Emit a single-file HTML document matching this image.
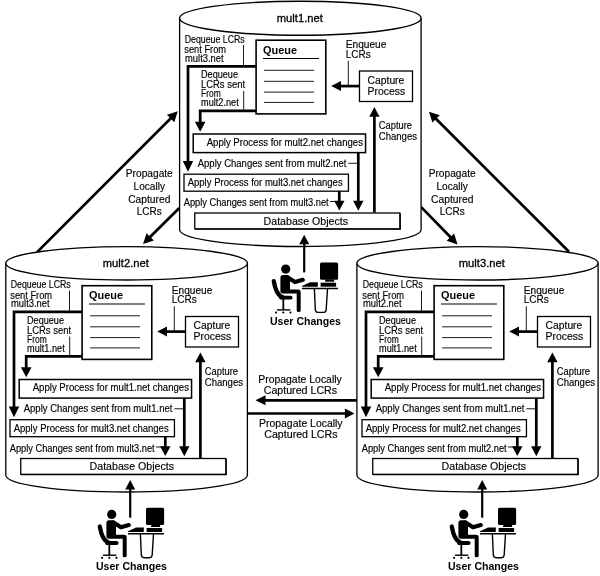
<!DOCTYPE html>
<html><head><meta charset="utf-8"><style>
html,body{margin:0;padding:0;background:#fff;}
svg{display:block;will-change:transform;}
text{font-family:"Liberation Sans",sans-serif;fill:#000;stroke:#000;stroke-width:0.15px;}
text[font-weight="bold"]{stroke-width:0;}
text.t{stroke-width:0.3px;}
</style></head><body>
<svg width="600" height="576" viewBox="0 0 600 576">
<rect width="600" height="576" fill="#fff"/>
<line x1="37.10" y1="252.10" x2="171.30" y2="117.76" stroke="#000" stroke-width="2.7"/><polygon points="177.80,111.25 174.27,122.14 166.91,114.79" fill="#000"/>
<line x1="179.30" y1="208.00" x2="149.53" y2="237.52" stroke="#000" stroke-width="2.7"/><polygon points="143.00,244.00 146.58,233.13 153.90,240.51" fill="#000"/>
<line x1="569.00" y1="251.80" x2="435.41" y2="118.21" stroke="#000" stroke-width="2.7"/><polygon points="428.90,111.70 439.79,115.24 432.44,122.59" fill="#000"/>
<line x1="421.00" y1="206.90" x2="451.08" y2="237.81" stroke="#000" stroke-width="2.7"/><polygon points="457.50,244.40 446.66,240.72 454.11,233.46" fill="#000"/>
<line x1="357.00" y1="400.30" x2="264.50" y2="400.30" stroke="#000" stroke-width="2.7"/><polygon points="255.50,400.30 265.50,395.30 265.50,405.30" fill="#000"/>
<line x1="247.50" y1="413.50" x2="345.90" y2="413.50" stroke="#000" stroke-width="2.7"/><polygon points="354.40,413.50 344.90,418.50 344.90,408.50" fill="#000"/>
<text x="149.3" y="177" font-size="10" text-anchor="middle" textLength="47" lengthAdjust="spacingAndGlyphs">Propagate</text>
<text x="149.3" y="190" font-size="10" text-anchor="middle" textLength="31.4" lengthAdjust="spacingAndGlyphs">Locally</text>
<text x="149.3" y="203" font-size="10" text-anchor="middle" textLength="42.3" lengthAdjust="spacingAndGlyphs">Captured</text>
<text x="149.3" y="215" font-size="10" text-anchor="middle" textLength="25" lengthAdjust="spacingAndGlyphs">LCRs</text>
<text x="452.2" y="177" font-size="10" text-anchor="middle" textLength="47" lengthAdjust="spacingAndGlyphs">Propagate</text>
<text x="452.2" y="190" font-size="10" text-anchor="middle" textLength="31.4" lengthAdjust="spacingAndGlyphs">Locally</text>
<text x="452.2" y="203" font-size="10" text-anchor="middle" textLength="42.3" lengthAdjust="spacingAndGlyphs">Captured</text>
<text x="452.2" y="215" font-size="10" text-anchor="middle" textLength="25" lengthAdjust="spacingAndGlyphs">LCRs</text>
<text x="258.2" y="383" font-size="10" textLength="83.6" lengthAdjust="spacingAndGlyphs">Propagate Locally</text>
<text x="263.7" y="393.8" font-size="10" textLength="73.4" lengthAdjust="spacingAndGlyphs">Captured LCRs</text>
<text x="259" y="426.8" font-size="10" textLength="83.6" lengthAdjust="spacingAndGlyphs">Propagate Locally</text>
<text x="264.3" y="438" font-size="10" textLength="73.2" lengthAdjust="spacingAndGlyphs">Captured LCRs</text>
<g transform="translate(0,0)">
<path d="M179.60,18.2 V229.7 A120.75,16.8 0 0 0 421.10,229.7 V18.2" fill="#fff" stroke="#000" stroke-width="1.3"/>
<ellipse cx="300.35" cy="18.2" rx="120.75" ry="17" fill="#fff" stroke="#000" stroke-width="1.4"/>
<text class="t" x="276.8" y="21.9" font-size="10.5" textLength="46" lengthAdjust="spacingAndGlyphs">mult1.net</text>
<text x="184.7" y="42.9" font-size="10" textLength="60" lengthAdjust="spacingAndGlyphs">Dequeue LCRs</text>
<text x="184.3" y="53" font-size="10" textLength="41.8" lengthAdjust="spacingAndGlyphs">sent From</text>
<text x="185" y="61.7" font-size="10" textLength="38.7" lengthAdjust="spacingAndGlyphs">mult3.net</text>
<line x1="243.5" y1="45" x2="243.5" y2="66" stroke="#000" stroke-width="0.9"/>
<path d="M256,66.4 H188 V163" fill="none" stroke="#000" stroke-width="2.7"/>
<polygon points="188.00,171.70 182.80,160.90 193.20,160.90" fill="#000"/>
<text x="201" y="78" font-size="10" textLength="37" lengthAdjust="spacingAndGlyphs">Dequeue</text>
<text x="201" y="88" font-size="10" textLength="44" lengthAdjust="spacingAndGlyphs">LCRs sent</text>
<text x="201" y="97" font-size="10" textLength="19.7" lengthAdjust="spacingAndGlyphs">From</text>
<text x="201" y="106" font-size="10" textLength="37.7" lengthAdjust="spacingAndGlyphs">mult2.net</text>
<line x1="243.7" y1="91" x2="243.7" y2="110" stroke="#000" stroke-width="0.9"/>
<path d="M256,110.8 H200.2 V123" fill="none" stroke="#000" stroke-width="2.7"/>
<polygon points="200.20,131.70 194.90,121.70 205.50,121.70" fill="#000"/>
<rect x="256.1" y="40.2" width="69.7" height="73.7" fill="#fff" stroke="#000" stroke-width="1.6"/>
<text x="263" y="53.6" font-size="10.3" font-weight="bold" textLength="34" lengthAdjust="spacingAndGlyphs">Queue</text>
<line x1="263" y1="58.5" x2="319" y2="58.5" stroke="#000" stroke-width="1.2"/>
<line x1="264" y1="70.3" x2="314" y2="70.3" stroke="#000" stroke-width="0.9"/>
<line x1="264" y1="81.3" x2="314" y2="81.3" stroke="#000" stroke-width="0.9"/>
<line x1="264" y1="92.1" x2="314" y2="92.1" stroke="#000" stroke-width="0.9"/>
<line x1="264" y1="102.4" x2="314" y2="102.4" stroke="#000" stroke-width="0.9"/>
<text x="345.8" y="48" font-size="10" textLength="40.5" lengthAdjust="spacingAndGlyphs">Enqueue</text>
<text x="345.8" y="57.5" font-size="10" textLength="25" lengthAdjust="spacingAndGlyphs">LCRs</text>
<line x1="348.3" y1="60.8" x2="348.3" y2="86" stroke="#000" stroke-width="0.9"/>
<rect x="359.5" y="71" width="53" height="30.5" fill="#fff" stroke="#000" stroke-width="1.3"/>
<text x="367.6" y="83.8" font-size="10" textLength="36.7" lengthAdjust="spacingAndGlyphs">Capture</text>
<text x="367.6" y="94.8" font-size="10" textLength="37.5" lengthAdjust="spacingAndGlyphs">Process</text>
<line x1="359.50" y1="86.10" x2="340.00" y2="86.10" stroke="#000" stroke-width="2.7"/><polygon points="331.20,86.10 341.00,81.10 341.00,91.10" fill="#000"/>
<rect x="193.2" y="134" width="172.35" height="18.6" fill="#fff" stroke="#000" stroke-width="1.5"/>
<text x="206.7" y="145.8" font-size="10" textLength="156.3" lengthAdjust="spacingAndGlyphs">Apply Process for mult2.net changes</text>
<text x="197.7" y="166.5" font-size="10" textLength="148.7" lengthAdjust="spacingAndGlyphs">Apply Changes sent from mult2.net</text>
<line x1="348.3" y1="163.3" x2="358.3" y2="163.3" stroke="#000" stroke-width="0.9"/>
<rect x="184" y="174.2" width="164.45" height="17" fill="#fff" stroke="#000" stroke-width="1.3"/>
<text x="187.7" y="186" font-size="10" textLength="155" lengthAdjust="spacingAndGlyphs">Apply Process for mult3.net changes</text>
<text x="183.7" y="206" font-size="10" textLength="145" lengthAdjust="spacingAndGlyphs">Apply Changes sent from mult3.net</text>
<line x1="330" y1="201.5" x2="339.3" y2="201.5" stroke="#000" stroke-width="0.9"/>
<line x1="358.30" y1="152.50" x2="358.30" y2="201.80" stroke="#000" stroke-width="2.7"/><polygon points="358.30,210.80 353.10,200.80 363.50,200.80" fill="#000"/>
<line x1="339.30" y1="191.00" x2="339.30" y2="201.80" stroke="#000" stroke-width="2.7"/><polygon points="339.30,210.50 334.10,200.80 344.50,200.80" fill="#000"/>
<line x1="374.40" y1="212.50" x2="374.40" y2="115.70" stroke="#000" stroke-width="2.7"/><polygon points="374.40,107.00 379.60,116.70 369.20,116.70" fill="#000"/>
<text x="378.8" y="129.2" font-size="10" textLength="33.2" lengthAdjust="spacingAndGlyphs">Capture</text>
<text x="378.8" y="140" font-size="10" textLength="38.2" lengthAdjust="spacingAndGlyphs">Changes</text>
<rect x="194.75" y="213" width="205.1" height="15.8" fill="#fff" stroke="#000" stroke-width="1.3"/>
<path d="M195,229.2 H400.3 V213.5" fill="none" stroke="#000" stroke-width="1.1"/>
<text x="263.6" y="224.5" font-size="10" textLength="84.4" lengthAdjust="spacingAndGlyphs">Database Objects</text>
</g>
<g transform="translate(-174,245.5)">
<path d="M179.80,17.8 V229.7 A120.8,16.8 0 0 0 421.40,229.7 V17.8" fill="#fff" stroke="#000" stroke-width="1.3"/>
<ellipse cx="300.6" cy="17.8" rx="120.8" ry="16.7" fill="#fff" stroke="#000" stroke-width="1.4"/>
<text class="t" x="276.8" y="21.9" font-size="10.5" textLength="46" lengthAdjust="spacingAndGlyphs">mult2.net</text>
<text x="184.7" y="42.9" font-size="10" textLength="60" lengthAdjust="spacingAndGlyphs">Dequeue LCRs</text>
<text x="184.3" y="53" font-size="10" textLength="41.8" lengthAdjust="spacingAndGlyphs">sent From</text>
<text x="185" y="61.7" font-size="10" textLength="38.7" lengthAdjust="spacingAndGlyphs">mult3.net</text>
<line x1="243.5" y1="45" x2="243.5" y2="66" stroke="#000" stroke-width="0.9"/>
<path d="M256,66.4 H188 V163" fill="none" stroke="#000" stroke-width="2.7"/>
<polygon points="188.00,171.70 182.80,160.90 193.20,160.90" fill="#000"/>
<text x="201" y="78" font-size="10" textLength="37" lengthAdjust="spacingAndGlyphs">Dequeue</text>
<text x="201" y="88" font-size="10" textLength="44" lengthAdjust="spacingAndGlyphs">LCRs sent</text>
<text x="201" y="97" font-size="10" textLength="19.7" lengthAdjust="spacingAndGlyphs">From</text>
<text x="201" y="106" font-size="10" textLength="37.7" lengthAdjust="spacingAndGlyphs">mult1.net</text>
<line x1="243.7" y1="91" x2="243.7" y2="110" stroke="#000" stroke-width="0.9"/>
<path d="M256,110.8 H200.2 V123" fill="none" stroke="#000" stroke-width="2.7"/>
<polygon points="200.20,131.70 194.90,121.70 205.50,121.70" fill="#000"/>
<rect x="256.1" y="40.2" width="69.7" height="73.7" fill="#fff" stroke="#000" stroke-width="1.6"/>
<text x="263" y="53.6" font-size="10.3" font-weight="bold" textLength="34" lengthAdjust="spacingAndGlyphs">Queue</text>
<line x1="263" y1="58.5" x2="319" y2="58.5" stroke="#000" stroke-width="1.2"/>
<line x1="264" y1="70.3" x2="314" y2="70.3" stroke="#000" stroke-width="0.9"/>
<line x1="264" y1="81.3" x2="314" y2="81.3" stroke="#000" stroke-width="0.9"/>
<line x1="264" y1="92.1" x2="314" y2="92.1" stroke="#000" stroke-width="0.9"/>
<line x1="264" y1="102.4" x2="314" y2="102.4" stroke="#000" stroke-width="0.9"/>
<text x="345.8" y="48" font-size="10" textLength="40.5" lengthAdjust="spacingAndGlyphs">Enqueue</text>
<text x="345.8" y="57.5" font-size="10" textLength="25" lengthAdjust="spacingAndGlyphs">LCRs</text>
<line x1="348.3" y1="60.8" x2="348.3" y2="86" stroke="#000" stroke-width="0.9"/>
<rect x="359.5" y="71" width="53" height="30.5" fill="#fff" stroke="#000" stroke-width="1.3"/>
<text x="367.6" y="83.8" font-size="10" textLength="36.7" lengthAdjust="spacingAndGlyphs">Capture</text>
<text x="367.6" y="94.8" font-size="10" textLength="37.5" lengthAdjust="spacingAndGlyphs">Process</text>
<line x1="359.50" y1="86.10" x2="340.00" y2="86.10" stroke="#000" stroke-width="2.7"/><polygon points="331.20,86.10 341.00,81.10 341.00,91.10" fill="#000"/>
<rect x="193.2" y="134" width="172.35" height="18.6" fill="#fff" stroke="#000" stroke-width="1.5"/>
<text x="206.7" y="145.8" font-size="10" textLength="156.3" lengthAdjust="spacingAndGlyphs">Apply Process for mult1.net changes</text>
<text x="197.7" y="166.5" font-size="10" textLength="148.7" lengthAdjust="spacingAndGlyphs">Apply Changes sent from mult1.net</text>
<line x1="348.3" y1="163.3" x2="358.3" y2="163.3" stroke="#000" stroke-width="0.9"/>
<rect x="184" y="174.2" width="164.45" height="17" fill="#fff" stroke="#000" stroke-width="1.3"/>
<text x="187.7" y="186" font-size="10" textLength="155" lengthAdjust="spacingAndGlyphs">Apply Process for mult3.net changes</text>
<text x="183.7" y="206" font-size="10" textLength="145" lengthAdjust="spacingAndGlyphs">Apply Changes sent from mult3.net</text>
<line x1="330" y1="201.5" x2="339.3" y2="201.5" stroke="#000" stroke-width="0.9"/>
<line x1="358.30" y1="152.50" x2="358.30" y2="201.80" stroke="#000" stroke-width="2.7"/><polygon points="358.30,210.80 353.10,200.80 363.50,200.80" fill="#000"/>
<line x1="339.30" y1="191.00" x2="339.30" y2="201.80" stroke="#000" stroke-width="2.7"/><polygon points="339.30,210.50 334.10,200.80 344.50,200.80" fill="#000"/>
<line x1="374.40" y1="212.50" x2="374.40" y2="115.70" stroke="#000" stroke-width="2.7"/><polygon points="374.40,107.00 379.60,116.70 369.20,116.70" fill="#000"/>
<text x="378.8" y="129.2" font-size="10" textLength="33.2" lengthAdjust="spacingAndGlyphs">Capture</text>
<text x="378.8" y="140" font-size="10" textLength="38.2" lengthAdjust="spacingAndGlyphs">Changes</text>
<rect x="194.75" y="213" width="205.1" height="15.8" fill="#fff" stroke="#000" stroke-width="1.3"/>
<path d="M195,229.2 H400.3 V213.5" fill="none" stroke="#000" stroke-width="1.1"/>
<text x="263.6" y="224.5" font-size="10" textLength="84.4" lengthAdjust="spacingAndGlyphs">Database Objects</text>
</g>
<g transform="translate(178,245.5)">
<path d="M178.90,17.8 V229.7 A120.6,16.8 0 0 0 420.10,229.7 V17.8" fill="#fff" stroke="#000" stroke-width="1.3"/>
<ellipse cx="299.5" cy="17.8" rx="120.6" ry="16.7" fill="#fff" stroke="#000" stroke-width="1.4"/>
<text class="t" x="280.8" y="21.9" font-size="10.5" textLength="46" lengthAdjust="spacingAndGlyphs">mult3.net</text>
<text x="184.7" y="42.9" font-size="10" textLength="60" lengthAdjust="spacingAndGlyphs">Dequeue LCRs</text>
<text x="184.3" y="53" font-size="10" textLength="41.8" lengthAdjust="spacingAndGlyphs">sent From</text>
<text x="185" y="61.7" font-size="10" textLength="38.7" lengthAdjust="spacingAndGlyphs">mult2.net</text>
<line x1="243.5" y1="45" x2="243.5" y2="66" stroke="#000" stroke-width="0.9"/>
<path d="M256,66.4 H188 V163" fill="none" stroke="#000" stroke-width="2.7"/>
<polygon points="188.00,171.70 182.80,160.90 193.20,160.90" fill="#000"/>
<text x="201" y="78" font-size="10" textLength="37" lengthAdjust="spacingAndGlyphs">Dequeue</text>
<text x="201" y="88" font-size="10" textLength="44" lengthAdjust="spacingAndGlyphs">LCRs sent</text>
<text x="201" y="97" font-size="10" textLength="19.7" lengthAdjust="spacingAndGlyphs">From</text>
<text x="201" y="106" font-size="10" textLength="37.7" lengthAdjust="spacingAndGlyphs">mult1.net</text>
<line x1="243.7" y1="91" x2="243.7" y2="110" stroke="#000" stroke-width="0.9"/>
<path d="M256,110.8 H200.2 V123" fill="none" stroke="#000" stroke-width="2.7"/>
<polygon points="200.20,131.70 194.90,121.70 205.50,121.70" fill="#000"/>
<rect x="256.1" y="40.2" width="69.7" height="73.7" fill="#fff" stroke="#000" stroke-width="1.6"/>
<text x="263" y="53.6" font-size="10.3" font-weight="bold" textLength="34" lengthAdjust="spacingAndGlyphs">Queue</text>
<line x1="263" y1="58.5" x2="319" y2="58.5" stroke="#000" stroke-width="1.2"/>
<line x1="264" y1="70.3" x2="314" y2="70.3" stroke="#000" stroke-width="0.9"/>
<line x1="264" y1="81.3" x2="314" y2="81.3" stroke="#000" stroke-width="0.9"/>
<line x1="264" y1="92.1" x2="314" y2="92.1" stroke="#000" stroke-width="0.9"/>
<line x1="264" y1="102.4" x2="314" y2="102.4" stroke="#000" stroke-width="0.9"/>
<text x="345.8" y="48" font-size="10" textLength="40.5" lengthAdjust="spacingAndGlyphs">Enqueue</text>
<text x="345.8" y="57.5" font-size="10" textLength="25" lengthAdjust="spacingAndGlyphs">LCRs</text>
<line x1="348.3" y1="60.8" x2="348.3" y2="86" stroke="#000" stroke-width="0.9"/>
<rect x="359.5" y="71" width="53" height="30.5" fill="#fff" stroke="#000" stroke-width="1.3"/>
<text x="367.6" y="83.8" font-size="10" textLength="36.7" lengthAdjust="spacingAndGlyphs">Capture</text>
<text x="367.6" y="94.8" font-size="10" textLength="37.5" lengthAdjust="spacingAndGlyphs">Process</text>
<line x1="359.50" y1="86.10" x2="340.00" y2="86.10" stroke="#000" stroke-width="2.7"/><polygon points="331.20,86.10 341.00,81.10 341.00,91.10" fill="#000"/>
<rect x="193.2" y="134" width="172.35" height="18.6" fill="#fff" stroke="#000" stroke-width="1.5"/>
<text x="206.7" y="145.8" font-size="10" textLength="156.3" lengthAdjust="spacingAndGlyphs">Apply Process for mult1.net changes</text>
<text x="197.7" y="166.5" font-size="10" textLength="148.7" lengthAdjust="spacingAndGlyphs">Apply Changes sent from mult1.net</text>
<line x1="348.3" y1="163.3" x2="358.3" y2="163.3" stroke="#000" stroke-width="0.9"/>
<rect x="184" y="174.2" width="164.45" height="17" fill="#fff" stroke="#000" stroke-width="1.3"/>
<text x="187.7" y="186" font-size="10" textLength="155" lengthAdjust="spacingAndGlyphs">Apply Process for mult2.net changes</text>
<text x="183.7" y="206" font-size="10" textLength="145" lengthAdjust="spacingAndGlyphs">Apply Changes sent from mult2.net</text>
<line x1="330" y1="201.5" x2="339.3" y2="201.5" stroke="#000" stroke-width="0.9"/>
<line x1="358.30" y1="152.50" x2="358.30" y2="201.80" stroke="#000" stroke-width="2.7"/><polygon points="358.30,210.80 353.10,200.80 363.50,200.80" fill="#000"/>
<line x1="339.30" y1="191.00" x2="339.30" y2="201.80" stroke="#000" stroke-width="2.7"/><polygon points="339.30,210.50 334.10,200.80 344.50,200.80" fill="#000"/>
<line x1="374.40" y1="212.50" x2="374.40" y2="115.70" stroke="#000" stroke-width="2.7"/><polygon points="374.40,107.00 379.60,116.70 369.20,116.70" fill="#000"/>
<text x="378.8" y="129.2" font-size="10" textLength="33.2" lengthAdjust="spacingAndGlyphs">Capture</text>
<text x="378.8" y="140" font-size="10" textLength="38.2" lengthAdjust="spacingAndGlyphs">Changes</text>
<rect x="194.75" y="213" width="205.1" height="15.8" fill="#fff" stroke="#000" stroke-width="1.3"/>
<path d="M195,229.2 H400.3 V213.5" fill="none" stroke="#000" stroke-width="1.1"/>
<text x="263.6" y="224.5" font-size="10" textLength="84.4" lengthAdjust="spacingAndGlyphs">Database Objects</text>
</g>
<g transform="translate(0,0)">
<line x1="304.20" y1="272.40" x2="304.20" y2="243.20" stroke="#000" stroke-width="2.2"/><polygon points="304.20,234.80 309.20,244.20 299.20,244.20" fill="#000"/>
<circle cx="285.7" cy="269.1" r="4.6" fill="#000"/>
<path d="M273.8,281.2 Q276.2,295.5 283,297.4" fill="none" stroke="#000" stroke-width="4.3" stroke-linecap="round"/>
<line x1="281" y1="297.7" x2="290.6" y2="297.7" stroke="#000" stroke-width="3.8" stroke-linecap="round"/>
<line x1="283.3" y1="298" x2="283.3" y2="310" stroke="#000" stroke-width="1.8"/>
<line x1="277" y1="309.9" x2="290.4" y2="309.9" stroke="#000" stroke-width="1.4"/>
<circle cx="276.1" cy="312.5" r="1.1" fill="#000"/>
<circle cx="283.3" cy="312.5" r="1.1" fill="#000"/>
<circle cx="290.4" cy="312.5" r="1.1" fill="#000"/>
<path d="M280.4,278 Q280.4,275 283,275 L287,275 Q290,275.5 290,279 L290,289.5 L298.5,289.5 Q300.7,289.5 300.7,292 L300.7,310.5 Q300.7,312 298.7,312 Q296.7,312 296.7,310.5 L296.7,293.5 L283,293.5 Q280.4,293.5 280.4,291 Z" fill="#000"/>
<path d="M287.5,277.2 L295,282 L302.8,279.8" fill="none" stroke="#000" stroke-width="4.2" stroke-linecap="round" stroke-linejoin="round"/>
<rect x="320" y="262.5" width="18.1" height="17.3" rx="1.5" fill="#000"/>
<rect x="325.2" y="279.5" width="8.9" height="2.2" fill="#000"/>
<rect x="320.6" y="282.7" width="15.5" height="4" fill="#000"/>
<polygon points="302,286.7 302,286 310,282.3 317.8,282.3 317.8,286.7" fill="#000"/>
<line x1="302" y1="288.4" x2="338" y2="288.4" stroke="#000" stroke-width="1.5"/>
<path d="M314.4,289 L315.3,309.5 Q315.5,312.4 318,312.4 L323.5,312.4 Q326,312.4 326.2,309.5 L327.5,289" fill="none" stroke="#000" stroke-width="1.4"/>
<text x="270" y="325" font-size="10.3" font-weight="bold" textLength="71" lengthAdjust="spacingAndGlyphs">User Changes</text>
</g>
<g transform="translate(-174,245.3)">
<line x1="304.20" y1="272.40" x2="304.20" y2="243.20" stroke="#000" stroke-width="2.2"/><polygon points="304.20,234.80 309.20,244.20 299.20,244.20" fill="#000"/>
<circle cx="285.7" cy="269.1" r="4.6" fill="#000"/>
<path d="M273.8,281.2 Q276.2,295.5 283,297.4" fill="none" stroke="#000" stroke-width="4.3" stroke-linecap="round"/>
<line x1="281" y1="297.7" x2="290.6" y2="297.7" stroke="#000" stroke-width="3.8" stroke-linecap="round"/>
<line x1="283.3" y1="298" x2="283.3" y2="310" stroke="#000" stroke-width="1.8"/>
<line x1="277" y1="309.9" x2="290.4" y2="309.9" stroke="#000" stroke-width="1.4"/>
<circle cx="276.1" cy="312.5" r="1.1" fill="#000"/>
<circle cx="283.3" cy="312.5" r="1.1" fill="#000"/>
<circle cx="290.4" cy="312.5" r="1.1" fill="#000"/>
<path d="M280.4,278 Q280.4,275 283,275 L287,275 Q290,275.5 290,279 L290,289.5 L298.5,289.5 Q300.7,289.5 300.7,292 L300.7,310.5 Q300.7,312 298.7,312 Q296.7,312 296.7,310.5 L296.7,293.5 L283,293.5 Q280.4,293.5 280.4,291 Z" fill="#000"/>
<path d="M287.5,277.2 L295,282 L302.8,279.8" fill="none" stroke="#000" stroke-width="4.2" stroke-linecap="round" stroke-linejoin="round"/>
<rect x="320" y="262.5" width="18.1" height="17.3" rx="1.5" fill="#000"/>
<rect x="325.2" y="279.5" width="8.9" height="2.2" fill="#000"/>
<rect x="320.6" y="282.7" width="15.5" height="4" fill="#000"/>
<polygon points="302,286.7 302,286 310,282.3 317.8,282.3 317.8,286.7" fill="#000"/>
<line x1="302" y1="288.4" x2="338" y2="288.4" stroke="#000" stroke-width="1.5"/>
<path d="M314.4,289 L315.3,309.5 Q315.5,312.4 318,312.4 L323.5,312.4 Q326,312.4 326.2,309.5 L327.5,289" fill="none" stroke="#000" stroke-width="1.4"/>
<text x="270" y="325" font-size="10.3" font-weight="bold" textLength="71" lengthAdjust="spacingAndGlyphs">User Changes</text>
</g>
<g transform="translate(178,245.3)">
<line x1="304.20" y1="272.40" x2="304.20" y2="243.20" stroke="#000" stroke-width="2.2"/><polygon points="304.20,234.80 309.20,244.20 299.20,244.20" fill="#000"/>
<circle cx="285.7" cy="269.1" r="4.6" fill="#000"/>
<path d="M273.8,281.2 Q276.2,295.5 283,297.4" fill="none" stroke="#000" stroke-width="4.3" stroke-linecap="round"/>
<line x1="281" y1="297.7" x2="290.6" y2="297.7" stroke="#000" stroke-width="3.8" stroke-linecap="round"/>
<line x1="283.3" y1="298" x2="283.3" y2="310" stroke="#000" stroke-width="1.8"/>
<line x1="277" y1="309.9" x2="290.4" y2="309.9" stroke="#000" stroke-width="1.4"/>
<circle cx="276.1" cy="312.5" r="1.1" fill="#000"/>
<circle cx="283.3" cy="312.5" r="1.1" fill="#000"/>
<circle cx="290.4" cy="312.5" r="1.1" fill="#000"/>
<path d="M280.4,278 Q280.4,275 283,275 L287,275 Q290,275.5 290,279 L290,289.5 L298.5,289.5 Q300.7,289.5 300.7,292 L300.7,310.5 Q300.7,312 298.7,312 Q296.7,312 296.7,310.5 L296.7,293.5 L283,293.5 Q280.4,293.5 280.4,291 Z" fill="#000"/>
<path d="M287.5,277.2 L295,282 L302.8,279.8" fill="none" stroke="#000" stroke-width="4.2" stroke-linecap="round" stroke-linejoin="round"/>
<rect x="320" y="262.5" width="18.1" height="17.3" rx="1.5" fill="#000"/>
<rect x="325.2" y="279.5" width="8.9" height="2.2" fill="#000"/>
<rect x="320.6" y="282.7" width="15.5" height="4" fill="#000"/>
<polygon points="302,286.7 302,286 310,282.3 317.8,282.3 317.8,286.7" fill="#000"/>
<line x1="302" y1="288.4" x2="338" y2="288.4" stroke="#000" stroke-width="1.5"/>
<path d="M314.4,289 L315.3,309.5 Q315.5,312.4 318,312.4 L323.5,312.4 Q326,312.4 326.2,309.5 L327.5,289" fill="none" stroke="#000" stroke-width="1.4"/>
<text x="270" y="325" font-size="10.3" font-weight="bold" textLength="71" lengthAdjust="spacingAndGlyphs">User Changes</text>
</g>
</svg>
</body></html>
